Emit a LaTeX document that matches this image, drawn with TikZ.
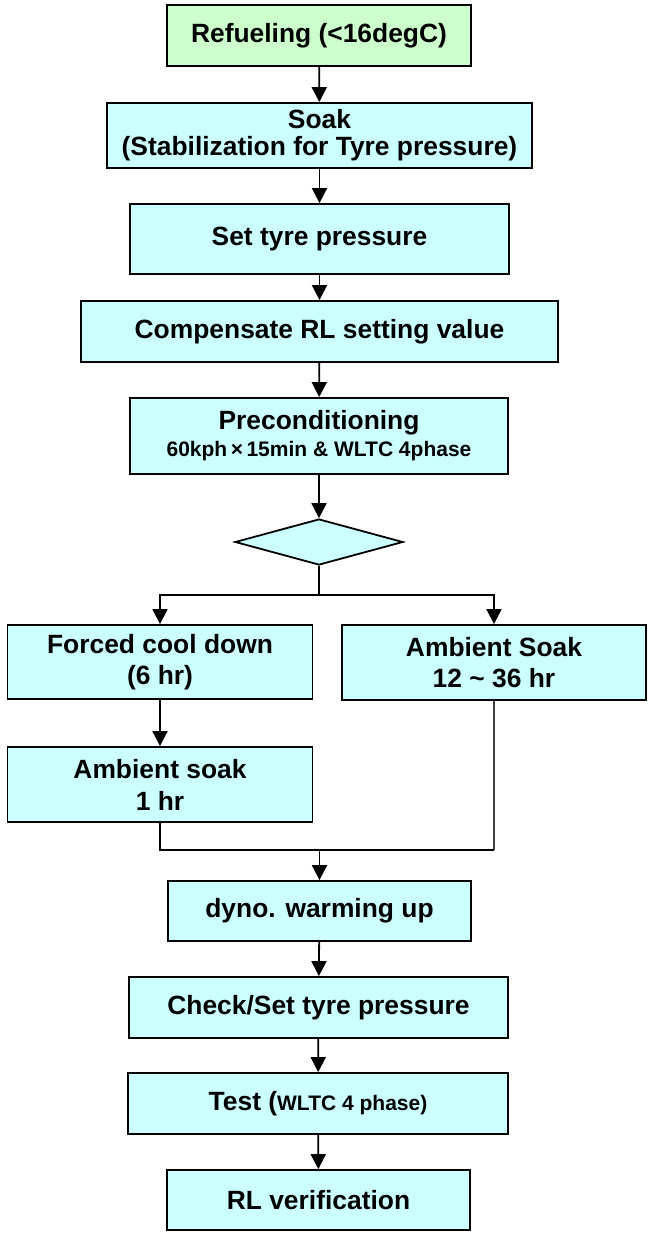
\documentclass[tikz,border=0pt]{standalone}
\usepackage{fontspec}
\setmainfont{Liberation Sans}
\usetikzlibrary{arrows.meta,shapes.geometric}
\definecolor{boxcyan}{HTML}{CCFFFF}
\definecolor{boxgreen}{HTML}{CCFFCC}
\tikzset{
  flowbox/.style={draw=black, line width=1.8pt, fill=boxcyan, rectangle, align=center,
    inner sep=0pt, font=\fontsize{26.4}{30}\selectfont\bfseries},
  startbox/.style={flowbox, fill=boxgreen},
  decbox/.style={draw=black, line width=1.8pt, fill=boxcyan, diamond, inner sep=0pt,
    minimum width=168pt, minimum height=46pt},
  conn/.style={line width=1.8pt, black},
  thinconn/.style={line width=1.3pt, black!75},
  arr/.style={conn, -{Triangle[width=15pt,length=15pt]}},
}
\begin{document}
\begin{tikzpicture}[x=1pt,y=-1pt]
\useasboundingbox (0,0) rectangle (648,1235);
\node[startbox, minimum width=304pt, minimum height=61pt] (ref) at (319,35.5) {Refueling (<16degC)};
\node[flowbox, minimum width=425pt, minimum height=65pt, font=\fontsize{26.4}{27}\selectfont\bfseries] (soak) at (319.5,135.5) {Soak\\(Stabilization for Tyre pressure)};
\node[flowbox, minimum width=379pt, minimum height=70pt] (set) at (319.5,239) {Set tyre pressure};
\node[flowbox, minimum width=477pt, minimum height=61pt] (comp) at (319.5,331.5) {Compensate RL setting value};
\node[flowbox, minimum width=378pt, minimum height=76pt, font=\fontsize{26.4}{27}\selectfont\bfseries] (pre) at (319,436) {Preconditioning\\{\fontsize{21}{27}\selectfont 60kph\,×\,15min \& WLTC 4phase}};
\node[decbox] (dia) at (319,542) {};
\coordinate (split) at (319,595);
\node[flowbox, minimum width=305pt, minimum height=74pt, font=\fontsize{26.4}{31}\selectfont\bfseries] (fcd) at (160,662) {Forced cool down\\(6 hr)};
\node[flowbox, minimum width=304pt, minimum height=75pt, font=\fontsize{26.4}{31}\selectfont\bfseries] (as36) at (494,662.5) {Ambient Soak\\12 \char`~{} 36 hr};
\node[flowbox, minimum width=305pt, minimum height=75pt, font=\fontsize{26.4}{32}\selectfont\bfseries] (as1) at (160,784.5) {Ambient soak\\1 hr};
\coordinate (merge) at (319.5,850);
\coordinate (mergeR) at (as36.south |- merge);
\node[flowbox, minimum width=303pt, minimum height=60pt] (dyno) at (319.5,911) {dyno. warming up};
\node[flowbox, minimum width=379pt, minimum height=61pt] (chk) at (318.5,1007.5) {Check/Set tyre pressure};
\node[flowbox, minimum width=380pt, minimum height=61pt] (test) at (318,1103.5) {Test ({\fontsize{21}{25}\selectfont WLTC 4 phase)}};
\node[flowbox, minimum width=303pt, minimum height=60pt] (rl) at (318.5,1200) {RL verification};
\draw[arr] (ref) -- (soak);
\draw[arr] (soak) -- (set);
\draw[arr] (set) -- (comp);
\draw[arr] (comp) -- (pre);
\draw[arr] (pre) -- (dia);
\draw[conn] (dia.south) -- (split);
\draw[arr] (split) -| (fcd.north);
\draw[arr] (split) -| (as36.north);
\draw[arr] (fcd) -- (as1);
\draw[conn] (as1.south) |- (merge);
\draw[thinconn] (as36.south) -- (mergeR);
\draw[conn] (mergeR) -- (merge);
\draw[arr] (merge) -- (dyno.north);
\draw[arr] (dyno) -- (chk);
\draw[arr] (chk) -- (test);
\draw[arr] (test) -- (rl);
\end{tikzpicture}
\end{document}
